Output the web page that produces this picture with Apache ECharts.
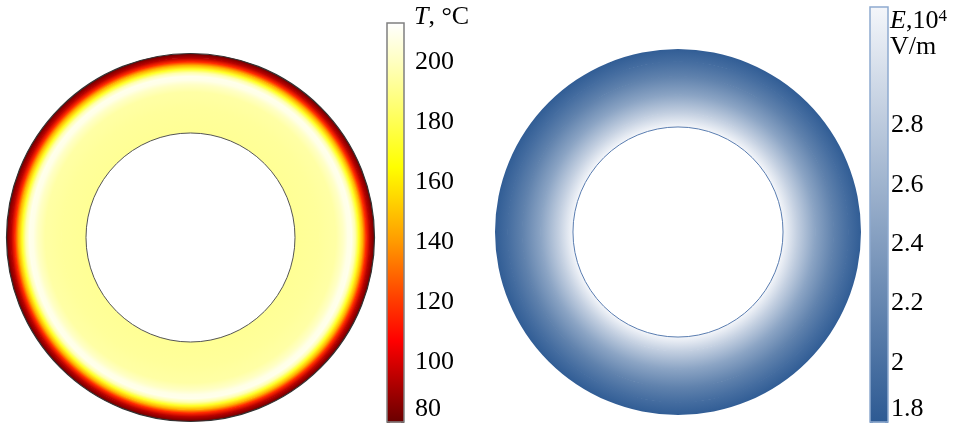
<!DOCTYPE html>
<html><head><meta charset="utf-8">
<script src="https://cdn.jsdelivr.net/npm/echarts@6/dist/echarts.min.js"></script>
<style>html,body{margin:0;padding:0;background:#fff}#c{width:955px;height:425px}</style>
</head><body><div id="c"></div>
<script>
// Temperature profile across the ring (radius relative to outer radius)
const tempRadius = [0.568, 0.70, 0.79, 0.83, 0.855, 0.875, 0.895, 0.915, 0.935, 0.955, 0.975, 1.0];
const tempValue  = [192,   193,  195,  201,  208,   209,   197,   172,   146,   116,   94,    80];
// Temperature colour scale
const tempScaleValues = [80, 90, 100, 107, 120, 140, 155, 165, 185, 200, 213];
const tempScaleColors = ['#6a0000','#a00000','#d80000','#ff0000','#ff3a00','#ff9a00','#ffd800','#ffff00','#ffff70','#ffffc0','#ffffff'];
const tempTicks = [80, 100, 120, 140, 160, 180, 200];
const tempMin = 80, tempMax = 213;

// Electric field profile across the ring
const fieldRadius = [0.574, 0.65, 0.75, 0.85, 0.93, 1.0];
const fieldValue  = [3.2,   2.86, 2.46, 2.16, 1.97, 1.83];
const fieldScaleValues = [1.8, 3.2];
const fieldScaleColors = ['#2d5a93', '#f4f6fa'];
const fieldTicks = [1.8, 2.0, 2.2, 2.4, 2.6, 2.8];
const fieldMin = 1.8, fieldMax = 3.2;

const FONT = '"Liberation Serif","Times New Roman",serif';
const FS = 26;

function colorAt(v, vals, cols) {
  if (v <= vals[0]) return cols[0];
  for (let i = 1; i < vals.length; i++) {
    if (v <= vals[i]) {
      const t = (v - vals[i-1]) / (vals[i] - vals[i-1]);
      return echarts.color.lerp(t, [cols[i-1], cols[i]]);
    }
  }
  return cols[cols.length - 1];
}
function segments(xs, ys) {
  const out = [];
  for (let i = 0; i < xs.length - 1; i++) out.push([xs[i], xs[i+1], ys[i], ys[i+1]]);
  return out;
}
function ringRenderer(vals, cols) {
  return function (params, api) {
    const cs = params.coordSys, cx = cs.cx, cy = cs.cy;
    const p0 = api.coord([api.value(0), 0]);
    const p1 = api.coord([api.value(1), 0]);
    const r0 = Math.hypot(p0[0]-cx, p0[1]-cy);
    const r1 = Math.hypot(p1[0]-cx, p1[1]-cy);
    const c0 = colorAt(api.value(2), vals, cols);
    const c1 = colorAt(api.value(3), vals, cols);
    const last = params.dataIndex === params.dataInsideLength - 1;
    return {
      type: 'sector', silent: true,
      shape: { cx: cx, cy: cy, r0: r0, r: last ? r1 : r1 + 0.7, startAngle: 0, endAngle: Math.PI * 2 },
      style: { fill: new echarts.graphic.RadialGradient(cx, cy, r1, [{offset: r0 / r1, color: c0}, {offset: 1, color: c1}], true) }
    };
  };
}
function outlineRenderer(innerColor, outerColor) {
  return function (params, api) {
    const cs = params.coordSys, cx = cs.cx, cy = cs.cy;
    const pi = api.coord([api.value(0), 0]);
    const po = api.coord([api.value(1), 0]);
    const ri = Math.hypot(pi[0]-cx, pi[1]-cy);
    const ro = Math.hypot(po[0]-cx, po[1]-cy);
    const children = [{ type: 'circle', shape: {cx: cx, cy: cy, r: ri}, style: {fill: null, stroke: innerColor, lineWidth: 1} }];
    if (outerColor) children.push({ type: 'circle', shape: {cx: cx, cy: cy, r: ro}, style: {fill: null, stroke: outerColor, lineWidth: 1.2} });
    return { type: 'group', silent: true, children: children };
  };
}
function barRenderer(cols) {
  return function (params, api) {
    const a = api.coord([0, api.value(1)]);
    const b = api.coord([1, api.value(0)]);
    const i = params.dataIndex;
    return {
      type: 'rect', silent: true,
      shape: { x: a[0], y: a[1] - 0.5, width: b[0] - a[0], height: b[1] - a[1] + 1 },
      style: { fill: new echarts.graphic.LinearGradient(0, a[1], 0, b[1], [{offset: 0, color: cols[i+1]}, {offset: 1, color: cols[i]}], true) }
    };
  };
}
function frameRenderer(color) {
  return function (params, api) {
    const a = api.coord([0, api.value(1)]);
    const b = api.coord([1, api.value(0)]);
    return { type: 'rect', silent: true, z2: 10,
      shape: { x: a[0], y: a[1], width: b[0] - a[0], height: b[1] - a[1] },
      style: { fill: null, stroke: color, lineWidth: 1.5 } };
  };
}
function pairs(vals) { const o = []; for (let i = 0; i < vals.length - 1; i++) o.push([vals[i], vals[i+1]]); return o; }
function tickFormatter(ticks) {
  return function (v) { return ticks.some(t => Math.abs(t - v) < 1e-6) ? String(+v.toFixed(2)) : ''; };
}

const chart = echarts.init(document.getElementById('c'), null, {renderer: 'canvas'});
chart.setOption({
  animation: false,
  backgroundColor: '#fff',
  title: [
    { text: '{i|T}, °C', left: 414, top: 4, padding: 0,
      textStyle: { fontFamily: FONT, fontSize: FS, fontWeight: 'normal', color: '#000', lineHeight: 26,
        rich: { i: { fontFamily: FONT, fontSize: FS, fontStyle: 'italic', color: '#000', lineHeight: 26 } } } },
    { text: '{i|E},10{s|4}\nV/m', left: 890, top: 8, padding: 0,
      textStyle: { fontFamily: FONT, fontSize: FS, fontWeight: 'normal', color: '#000', lineHeight: 26,
        rich: { i: { fontFamily: FONT, fontSize: FS, fontStyle: 'italic', color: '#000', lineHeight: 26 },
                s: { fontFamily: FONT, fontSize: 17, color: '#000', lineHeight: 10, verticalAlign: 'top' } } } }
  ],
  polar: [
    { center: [190.5, 237.5], radius: 184 },
    { center: [678, 232], radius: 183 }
  ],
  angleAxis: [
    { polarIndex: 0, type: 'value', min: 0, max: 360, show: false },
    { polarIndex: 1, type: 'value', min: 0, max: 360, show: false }
  ],
  radiusAxis: [
    { polarIndex: 0, type: 'value', min: 0, max: 1, show: false },
    { polarIndex: 1, type: 'value', min: 0, max: 1, show: false }
  ],
  grid: [
    { left: 387, top: 23, width: 17, height: 399 },
    { left: 870, top: 7, width: 18, height: 415 }
  ],
  xAxis: [
    { gridIndex: 0, type: 'value', min: 0, max: 1, show: false },
    { gridIndex: 1, type: 'value', min: 0, max: 1, show: false }
  ],
  yAxis: [
    { gridIndex: 0, type: 'value', min: tempMin, max: tempMax, interval: 20, position: 'left',
      axisLine: {show: false}, splitLine: {show: false}, axisLabel: {show: false},
      axisTick: {show: true, inside: true, length: 3, lineStyle: {color: '#444', width: 1}} },
    { gridIndex: 0, type: 'value', min: tempMin, max: tempMax, interval: 20, position: 'right',
      axisLine: {show: false}, splitLine: {show: false},
      axisTick: {show: true, inside: true, length: 3, lineStyle: {color: '#444', width: 1}},
      axisLabel: {show: true, margin: 11, fontFamily: FONT, fontSize: FS, color: '#000',
        showMaxLabel: false, verticalAlignMinLabel: 'bottom', formatter: tickFormatter(tempTicks)} },
    { gridIndex: 1, type: 'value', min: fieldMin, max: fieldMax, interval: 0.2, position: 'left',
      axisLine: {show: false}, splitLine: {show: false}, axisLabel: {show: false},
      axisTick: {show: true, inside: true, length: 3, lineStyle: {color: '#5a7db0', width: 1}} },
    { gridIndex: 1, type: 'value', min: fieldMin, max: fieldMax, interval: 0.2, position: 'right',
      axisLine: {show: false}, splitLine: {show: false},
      axisTick: {show: true, inside: true, length: 3, lineStyle: {color: '#5a7db0', width: 1}},
      axisLabel: {show: true, margin: 3, fontFamily: FONT, fontSize: FS, color: '#000',
        showMaxLabel: false, verticalAlignMinLabel: 'bottom', formatter: tickFormatter(fieldTicks)} }
  ],
  series: [
    { type: 'custom', name: 'T', coordinateSystem: 'polar', polarIndex: 0,
      dimensions: ['r0', 'r1', 'v0', 'v1'], encode: {radius: 0, angle: 1},
      renderItem: ringRenderer(tempScaleValues, tempScaleColors), data: segments(tempRadius, tempValue) },
    { type: 'custom', name: 'T outline', coordinateSystem: 'polar', polarIndex: 0, z: 3,
      encode: {radius: 0, angle: 1},
      renderItem: outlineRenderer('#555', '#333'), data: [[tempRadius[0], tempRadius[tempRadius.length-1]]] },
    { type: 'custom', name: 'E', coordinateSystem: 'polar', polarIndex: 1,
      dimensions: ['r0', 'r1', 'v0', 'v1'], encode: {radius: 0, angle: 1},
      renderItem: ringRenderer(fieldScaleValues, fieldScaleColors), data: segments(fieldRadius, fieldValue) },
    { type: 'custom', name: 'E outline', coordinateSystem: 'polar', polarIndex: 1, z: 3,
      encode: {radius: 0, angle: 1},
      renderItem: outlineRenderer('#5a7db0', null), data: [[fieldRadius[0], fieldRadius[fieldRadius.length-1]]] },
    { type: 'custom', name: 'T scale', xAxisIndex: 0, yAxisIndex: 0, encode: {x: -1, y: [0, 1]},
      renderItem: barRenderer(tempScaleColors), data: pairs(tempScaleValues) },
    { type: 'custom', name: 'T frame', xAxisIndex: 0, yAxisIndex: 0, z: 5, encode: {x: -1, y: [0, 1]},
      renderItem: frameRenderer('#808080'), data: [[tempMin, tempMax]] },
    { type: 'custom', name: 'E scale', xAxisIndex: 1, yAxisIndex: 2, encode: {x: -1, y: [0, 1]},
      renderItem: barRenderer(fieldScaleColors), data: pairs(fieldScaleValues) },
    { type: 'custom', name: 'E frame', xAxisIndex: 1, yAxisIndex: 2, z: 5, encode: {x: -1, y: [0, 1]},
      renderItem: frameRenderer('#8eaad0'), data: [[fieldMin, fieldMax]] }
  ]
});
</script>
</body></html>
